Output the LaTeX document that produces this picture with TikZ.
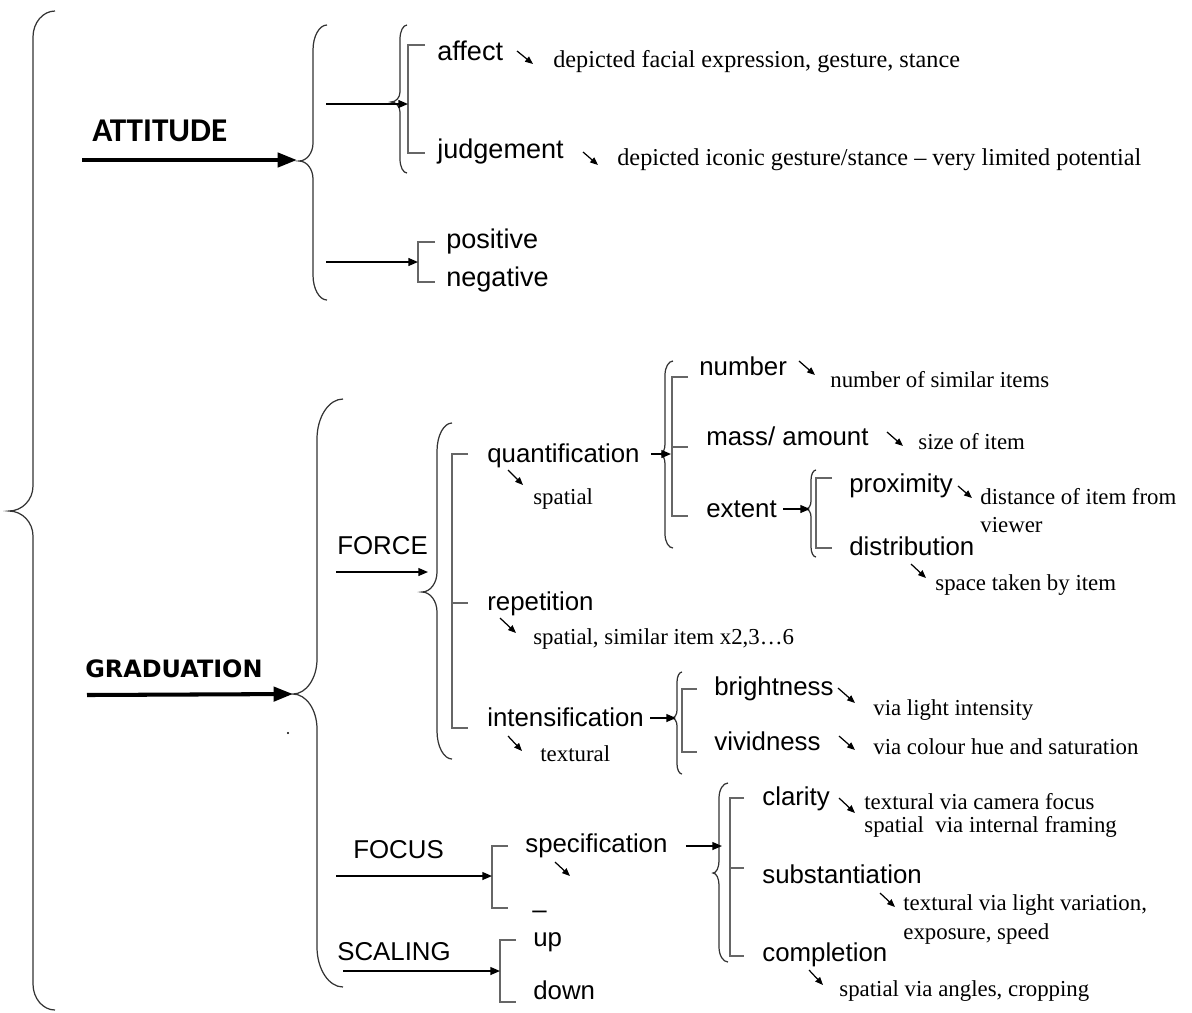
\documentclass[tikz,border=0pt]{standalone}
\usepackage{fontspec}
\setmainfont{Liberation Serif}
\setsansfont{Liberation Sans}
\newfontfamily\headfont{Carlito}
\newfontfamily\gradfont{DejaVu Sans}
\usetikzlibrary{arrows.meta}

% curly brace opening to the right: X, hook width, top, end radius, tip depth, tip y, tip radius, bottom
\newcommand{\curlybrace}[8]{%
  \draw[brc] ({#1+#2},#3) .. controls ({#1+0.45*#2},#3) and (#1,{#3+0.45*#4}) .. (#1,{#3+#4})
    -- (#1,{#6-#7}) .. controls (#1,{#6-0.45*#7}) and ({#1-0.45*#5},#6) .. ({#1-#5},#6)
    .. controls ({#1-0.45*#5},#6) and (#1,{#6+0.45*#7}) .. (#1,{#6+#7})
    -- (#1,{#8-#4}) .. controls (#1,{#8-0.45*#4}) and ({#1+0.45*#2},#8) .. ({#1+#2},#8);}
% square bracket: x, top, bottom, tick end
\newcommand{\sqbracket}[4]{%
  \draw[brk] (#4,#2) -- (#1,#2) -- (#1,#3) -- (#4,#3);}

\tikzset{
  brc/.style={draw=black!80, line width=0.7pt},
  brk/.style={draw=black!60, line width=1.0pt},
  lnk/.style={draw=black, line width=0.8pt, -{Triangle[length=5.5pt,width=4.5pt]}},
  bigarr/.style={draw=black, line width=2.3pt, -{Triangle[length=11pt,width=8pt]}},
  darr/.style={draw=black, line width=0.7pt, -{Triangle[length=4.5pt,width=3.6pt]}},
  lab/.style={font=\sffamily\fontsize{14.7}{17}\selectfont, anchor=west, inner sep=0pt,
              text height=0.91em, text depth=0pt},
  labbig/.style={lab, font=\sffamily\fontsize{15.4}{18}\selectfont},
  note/.style={font=\rmfamily\fontsize{13}{15}\selectfont, anchor=west, inner sep=0pt,
               text height=0.83em, text depth=0pt},
  notebig/.style={note, font=\rmfamily\fontsize{13.8}{16}\selectfont},
  head/.style={font=\headfont\bfseries\fontsize{18.9}{22}\selectfont, anchor=west, inner sep=0pt,
               text height=0.64em, text depth=0pt},
  gradhead/.style={font=\gradfont\bfseries\fontsize{13.6}{16}\selectfont, anchor=west, inner sep=0pt,
               text height=0.73em, text depth=0pt},
}

\begin{document}
\begin{tikzpicture}[x=0.02cm, y=-0.02cm]
\useasboundingbox (0,0) rectangle (1192,1012);

% ---------- braces ----------
\curlybrace{33}{22}{11}{26}{24}{511}{25}{1010}
\curlybrace{313}{14}{25}{25}{14}{161}{18}{300}
\curlybrace{400}{7}{25}{14}{9}{102}{10}{173}
\curlybrace{317}{26}{399}{40}{24}{694}{35}{987}
\curlybrace{437}{15}{423}{28}{15}{592}{20}{759}
\curlybrace{665}{8}{361}{14}{5}{454}{10}{548}
\curlybrace{811}{5}{470}{10}{5}{509}{8}{557}
\curlybrace{677}{5}{672}{10}{5}{718}{8}{774}
\curlybrace{719}{9}{783}{15}{6}{873}{12}{962}

% ---------- brackets ----------
\sqbracket{408}{45}{153}{425}
\sqbracket{418}{242}{282}{435}
\sqbracket{452}{454}{728}{468}
\draw[brk] (452,603) -- (468,603);
\sqbracket{672}{377}{516}{688}
\draw[brk] (672,447) -- (688,447);
\sqbracket{816}{478}{548}{832}
\sqbracket{682}{689}{752}{697}
\sqbracket{492}{846}{908}{508}
\sqbracket{730}{798}{956}{744}
\draw[brk] (730,868) -- (744,868);
\sqbracket{500}{940}{1002}{516}

% ---------- headings ----------
\node[head] (att) at (92,136) {ATTITUDE};
\node[gradhead] (grad) at (85,671) {GRADUATION};

% ---------- system terms ----------
\node[labbig] (aff)   at (437,52)  {affect};
\node[labbig] (jud)   at (437,150) {judgement};
\node[labbig] (pos)   at (446,240) {positive};
\node[labbig] (neg)   at (446,278) {negative};
\node[lab] (force) at (337,546) {FORCE};
\node[lab] (quant) at (487,454) {quantification};
\node[lab] (rep)   at (487,602) {repetition};
\node[lab] (int)   at (487,718) {intensification};
\node[lab] (num)   at (699,367) {number};
\node[lab] (mass)  at (706,437) {mass/ amount};
\node[lab] (ext)   at (706,509) {extent};
\node[lab] (prox)  at (849,484) {proximity};
\node[lab] (dist)  at (849,547) {distribution};
\node[lab] (bri)   at (714,687) {brightness};
\node[lab] (viv)   at (714,742) {vividness};
\node[lab] (focus) at (353,850) {FOCUS};
\node[lab] (spec)  at (525,844) {specification};
\node[lab] (blank) at (532,910) {–};
\node[lab] (cla)   at (762,797) {clarity};
\node[lab] (sub)   at (762,875) {substantiation};
\node[lab] (com)   at (762,953) {completion};
\node[lab] (scal)  at (337,952) {SCALING};
\node[lab] (up)    at (533,938) {up};
\node[lab] (down)  at (533,991) {down};

% ---------- realisations ----------
\node[notebig] (nAff) at (553,60)  {depicted facial expression, gesture, stance};
\node[notebig] (nJud) at (617,158) {depicted iconic gesture/stance – very limited potential};
\node[note] (nQuant) at (533,497) {spatial};
\node[note] (nNum)   at (830,380) {number of similar items};
\node[note] (nMass)  at (918,442) {size of item};
\node[note] (nProxA) at (980,497) {distance of item from};
\node[note] (nProxB) at (980,525) {viewer};
\node[note] (nDist)  at (935,583) {space taken by item};
\node[note] (nRep)   at (533,637) {spatial, similar item x2,3…6};
\node[note] (nInt)   at (540,754) {textural};
\node[note] (nBri)   at (873,708) {via light intensity};
\node[note] (nViv)   at (873,747) {via colour hue and saturation};
\node[note] (nClaA)  at (864,802) {textural\ via camera focus};
\node[note] (nClaB)  at (864,825) {spatial\ \ via internal\ framing};
\node[note] (nSubA)  at (903,903) {textural via light variation,};
\node[note] (nSubB)  at (903,932) {exposure, speed};
\node[note] (nCom)   at (839,989) {spatial via angles, cropping};

% ---------- entry points ----------
\coordinate (attTip)  at (297,160);
\coordinate (gradTip) at (293,694);
\coordinate (attOutA) at (326,104);
\coordinate (affIn)   at (408,104);
\coordinate (attOutB) at (326,262);
\coordinate (posIn)   at (418,262);
\coordinate (forceIn) at (428,572);
\coordinate (quantIn) at (671,454);
\coordinate (extIn)   at (810,509);
\coordinate (intIn)   at (676,718);
\coordinate (focusIn) at (492,876);
\coordinate (specIn)  at (722,846);
\coordinate (scalIn)  at (500,971);

% ---------- connectors ----------
\draw[bigarr] ([shift={(-10,24)}]att.west) -- (attTip);
\draw[bigarr] ([shift={(2,24)}]grad.west) -- (gradTip);
\draw[lnk] (attOutA) -- (affIn);
\draw[lnk] (attOutB) -- (posIn);
\draw[lnk] ([shift={(-1,26)}]force.west) -- (forceIn);
\draw[lnk] ([shift={(11,0)}]quant.east) -- (quantIn);
\draw[lnk] ([shift={(6,0)}]ext.east) -- (extIn);
\draw[lnk] ([shift={(6,0)}]int.east) -- (intIn);
\draw[lnk] ([shift={(-17,26)}]focus.west) -- (focusIn);
\draw[lnk] ([shift={(18,2)}]spec.east) -- (specIn);
\draw[lnk] ([shift={(6,19)}]scal.west) -- (scalIn);

% ---------- realisation pointers ----------
\draw[darr] ([shift={(80,-1)}]aff.west)   -- ++(16,13);
\draw[darr] ([shift={(146,2)}]jud.west)   -- ++(15,13);
\draw[darr] ([shift={(100,-6)}]num.west)  -- ++(16,14);
\draw[darr] ([shift={(181,-5)}]mass.west) -- ++(16,14);
\draw[darr] ([shift={(109,2)}]prox.west)  -- ++(14,12);
\draw[darr] ([shift={(62,17)}]dist.west)  -- ++(15,14);
\draw[darr] ([shift={(21,16)}]quant.west) -- ++(15,15);
\draw[darr] ([shift={(13,16)}]rep.west)   -- ++(16,15);
\draw[darr] ([shift={(21,18)}]int.west)   -- ++(14,15);
\draw[darr] ([shift={(124,1)}]bri.west)   -- ++(17,15);
\draw[darr] ([shift={(125,-6)}]viv.west)  -- ++(16,14);
\draw[darr] ([shift={(30,18)}]spec.west)  -- ++(15,14);
\draw[darr] ([shift={(77,1)}]cla.west)    -- ++(16,15);
\draw[darr] ([shift={(118,18)}]sub.west)  -- ++(15,14);
\draw[darr] ([shift={(47,17)}]com.west)   -- ++(14,15);

% stray mark below the graduation arrow
\fill (288,733) circle (1.2);
\end{tikzpicture}
\end{document}
